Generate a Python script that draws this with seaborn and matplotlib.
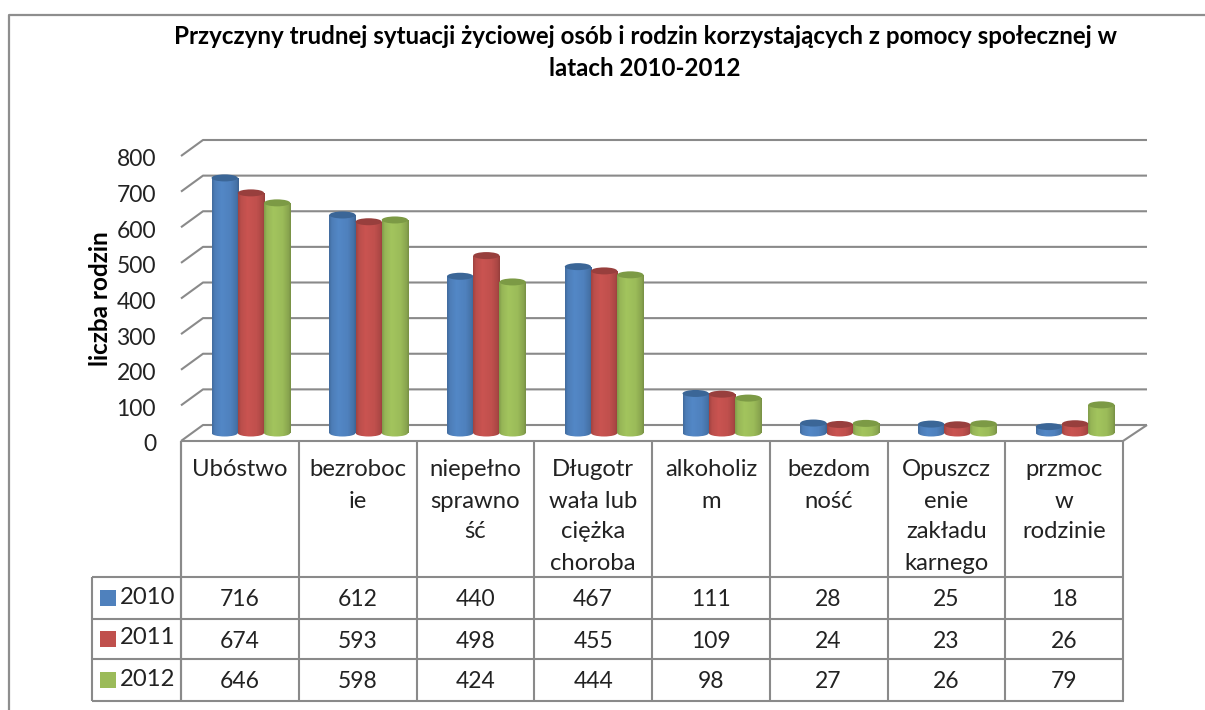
# Przyczyny trudnej sytuacji zyciowej - 3D style cylinder chart with data table

import numpy as np
import pandas as pd
import matplotlib.pyplot as plt
from matplotlib.patches import Ellipse
from matplotlib.transforms import ScaledTranslation
import seaborn as sns

# Data
categories = ["Ubóstwo", "bezroboc\nie", "niepełno\nsprawno\nść", "Długotr\nwała lub\nciężka\nchoroba",
              "alkoholiz\nm", "bezdom\nność", "Opuszcz\nenie\nzakładu\nkarnego", "przmoc\nw\nrodzinie"]
years = ["2010", "2011", "2012"]
values_2010 = [716, 612, 440, 467, 111, 28, 25, 18]
values_2011 = [674, 593, 498, 455, 109, 24, 23, 26]
values_2012 = [646, 598, 424, 444, 98, 27, 26, 79]
yticks = [0, 100, 200, 300, 400, 500, 600, 700, 800]
title_lines = ["Przyczyny trudnej sytuacji życiowej osób i rodzin korzystających z pomocy społecznej w",
               "latach 2010-2012"]

# Colours
colors = ["#4F81BD", "#C0504D", "#9BBB59"]
top_colors = ["#3B6697", "#983F3D", "#7C9A45"]
line_color = "#8A8A8A"

rows = []
for year, vals in zip(years, [values_2010, values_2011, values_2012]):
    for cat, val in zip(categories, vals):
        rows.append({"cat": cat, "year": year, "value": val})
df = pd.DataFrame(rows)

sns.set_style("white")
plt.rcParams["font.family"] = ["Lato", "DejaVu Sans"]

W, H = 1205, 710
fig = plt.figure(figsize=(W / 100, H / 100), dpi=100)


def box(left, top, right, bottom):
    return [left / W, 1 - bottom / H, (right - left) / W, (bottom - top) / H]


# Pixel layer for the frame, walls and table
bg = fig.add_axes([0, 0, 1, 1], zorder=0)
bg.set_xlim(0, W)
bg.set_ylim(H, 0)
bg.axis("off")


def line(xs, ys):
    bg.plot(xs, ys, color=line_color, lw=1.5, solid_capstyle="butt")


# Outer frame
bg.plot([9, 9, W], [H, 15, 15], color="#8E8E8E", lw=1.6)

# Walls
px_per_unit = 285 / 800
for v in yticks:
    y_front = 441 - v * px_per_unit
    y_back = 425 - v * px_per_unit
    line([181, 203, 1147], [y_front, y_back, y_back])
line([181, 1123, 1147], [441, 441, 425])

# Table grid
cell = 942 / 8
for k in range(9):
    x = 181 + k * cell
    line([x, x], [441, 701])
line([181, 181], [441, 701])
for y in [577, 619, 659, 701]:
    line([92, 1124], [y, y])
line([92, 92], [577, 701])

# Table text
font_size = 16.5
label_size = 17.2
for i, cat in enumerate(categories):
    xc = 181 + (i + 0.5) * cell
    for n, part in enumerate(cat.split("\n")):
        bg.text(xc, 470 + n * 31, part, ha="center", va="center", fontsize=label_size, color="#222222")

row_y = [600, 641, 682]
for year, vals, col, y in zip(years, [values_2010, values_2011, values_2012], colors, row_y):
    bg.fill_between([100, 115.5], y - 10, y + 6, color=col, lw=0)
    bg.text(120, y - 3, year, ha="left", va="center", fontsize=label_size, color="#222222")
    for i, val in enumerate(vals):
        bg.text(181 + (i + 0.5) * cell, y, str(val), ha="center", va="center", fontsize=font_size, color="#222222")

# Title
bg.text(645, 36, title_lines[0], ha="center", va="center", fontsize=17.4, fontweight="bold", color="black")
bg.text(645, 68, title_lines[1], ha="center", va="center", fontsize=17.4, fontweight="bold", color="black")

# Y axis in front plane
ax_y = fig.add_axes(box(181, 156, 1123, 441), zorder=1)
ax_y.patch.set_alpha(0)
ax_y.set_ylim(0, 800)
ax_y.set_yticks(yticks)
ax_y.set_xticks([])
ax_y.tick_params(axis="y", length=0, pad=18, labelsize=font_size, labelcolor="#222222")
nudge = ScaledTranslation(0, -2 / 100, fig.dpi_scale_trans)
for lab in ax_y.get_yticklabels():
    lab.set_transform(lab.get_transform() + nudge)
ax_y.set_ylabel("liczba rodzin", fontsize=17.5, fontweight="bold", color="black", labelpad=3)
sns.despine(ax=ax_y, left=True, bottom=True)

# Bars, sit between the front plane and the back wall
low = -30
base_px = 433
ax = fig.add_axes(box(192, base_px - 285, 1134, base_px - low * px_per_unit), zorder=2)
sns.barplot(data=df, x="cat", y="value", hue="year", palette=colors, width=0.668, gap=0,
            dodge=True, legend=False, ax=ax)
ax.set_xlim(-0.5, 7.5)
ax.set_ylim(low, 800)
ax.axis("off")

# Cylinder shading across each bar
shade_x = np.linspace(0, 1, 40)
shade = np.interp(shade_x, [0, 0.1, 0.35, 0.7, 0.92, 1], [0.84, 0.97, 1.05, 1.0, 0.88, 0.78])
cap_height = 7 / px_per_unit

for container, col, top_col in zip(ax.containers, colors, top_colors):
    rgb = np.array(plt.matplotlib.colors.to_rgb(col))
    grad = np.clip(shade[None, :, None] * rgb[None, None, :], 0, 1)
    for bar in container:
        x0 = bar.get_x()
        w = bar.get_width()
        h = bar.get_height()
        bar.set_facecolor("none")
        bar.set_edgecolor("none")
        bottom = Ellipse((x0 + w / 2, 0), w, cap_height, fc="none", ec="none", zorder=3)
        ax.add_patch(bottom)
        im = ax.imshow(grad, extent=[x0, x0 + w, -cap_height, cap_height], aspect="auto", zorder=3)
        im.set_clip_path(bottom)
        im = ax.imshow(grad, extent=[x0, x0 + w, 0, h], aspect="auto", zorder=3)
        im.set_clip_path(bar)
        ax.add_patch(Ellipse((x0 + w / 2, h), w, cap_height, fc=top_col, ec="none", zorder=4))

ax.set_xlim(-0.5, 7.5)
ax.set_ylim(low, 800)

fig.savefig("out.png", dpi=100)
